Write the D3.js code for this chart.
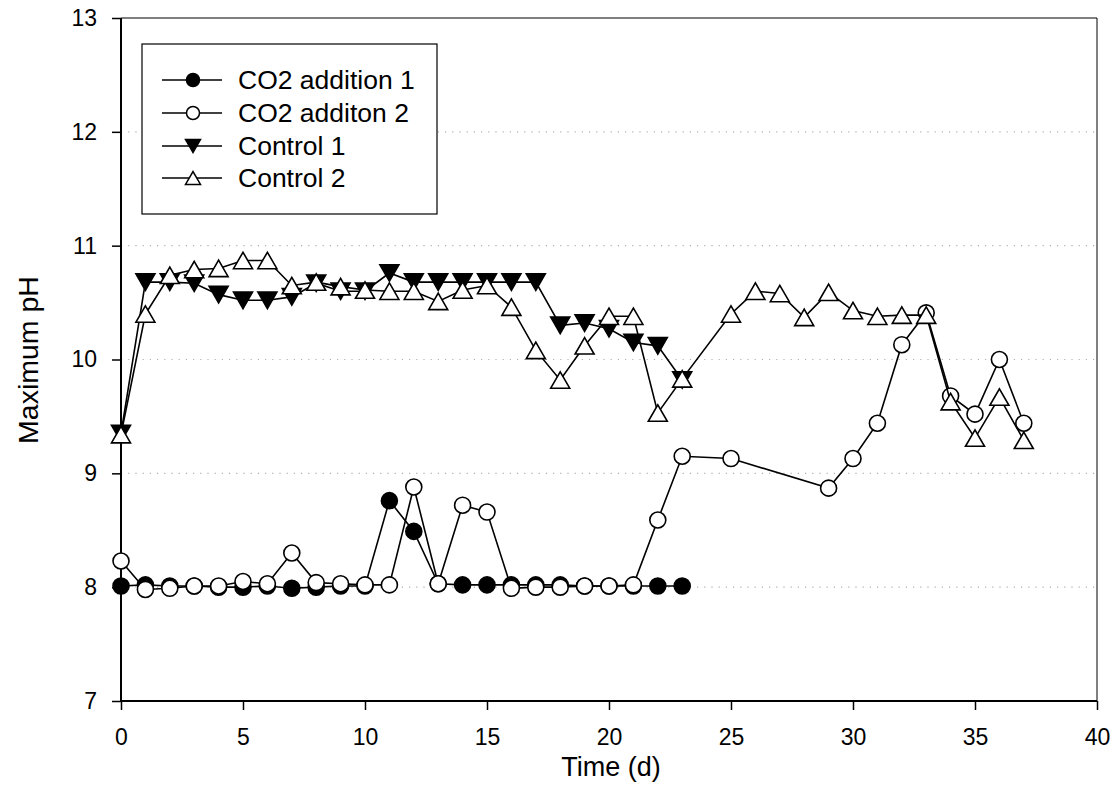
<!DOCTYPE html>
<html><head><meta charset="utf-8">
<script src="https://cdn.jsdelivr.net/npm/d3@7"></script>
<style>body{margin:0;background:#fff}svg{display:block}text{font-family:"Liberation Sans",Arial,sans-serif}</style>
</head><body><svg id="c" width="1120" height="787"></svg>
<script>
const seriesNames = ["CO2 addition 1", "CO2 additon 2", "Control 1", "Control 2"];
const daysA = d3.range(0, 24);
const co2Add1 = [8.01, 8.02, 8.01, 8.01, 8.00, 8.00, 8.01, 7.99, 8.00, 8.01, 8.01, 8.76, 8.49, 8.03, 8.02, 8.02, 8.02, 8.02, 8.02, 8.01, 8.01, 8.01, 8.01, 8.01];
const daysB = [0,1,2,3,4,5,6,7,8,9,10,11,12,13,14,15,16,17,18,19,20,21,22,23,25,29,30,31,32,33,34,35,36,37];
const co2Add2 = [8.23, 7.98, 7.99, 8.01, 8.01, 8.05, 8.03, 8.30, 8.04, 8.03, 8.02, 8.02, 8.88, 8.03, 8.72, 8.66, 7.99, 8.00, 8.00, 8.01, 8.01, 8.02, 8.59, 9.15, 9.13, 8.87, 9.13, 9.44, 10.13, 10.41, 9.68, 9.52, 10.00, 9.44];
const control1 = [9.35, 10.68, 10.68, 10.67, 10.57, 10.52, 10.52, 10.55, 10.67, 10.60, 10.60, 10.76, 10.68, 10.68, 10.68, 10.68, 10.68, 10.68, 10.30, 10.32, 10.27, 10.15, 10.12, 9.82];
const daysC = [0,1,2,3,4,5,6,7,8,9,10,11,12,13,14,15,16,17,18,19,20,21,22,23,25,26,27,28,29,30,31,32,33,34,35,36,37];
const control2 = [9.34, 10.40, 10.74, 10.79, 10.80, 10.87, 10.87, 10.65, 10.68, 10.64, 10.61, 10.60, 10.60, 10.51, 10.61, 10.65, 10.46, 10.08, 9.82, 10.12, 10.38, 10.38, 9.53, 9.83, 10.40, 10.60, 10.58, 10.37, 10.59, 10.43, 10.38, 10.39, 10.39, 9.63, 9.31, 9.67, 9.29];
const xTicks = [0,5,10,15,20,25,30,35,40];
const yTicks = [7,8,9,10,11,12,13];
const gridVals = [8,9,10,11,12];

const svg = d3.select("#c");
const L=121, R=1097, T=18, B=701;
const x = d3.scaleLinear().domain([0,40]).range([L,R]);
const y = d3.scaleLinear().domain([7,13]).range([B,T]);

// grid
svg.append("g").selectAll("line").data(gridVals).join("line")
  .attr("x1",L).attr("x2",R).attr("y1",d=>y(d)).attr("y2",d=>y(d))
  .attr("stroke","#b0b0b0").attr("stroke-width",1.2).attr("stroke-dasharray","1.2,6");

// frame
svg.append("line").attr("x1",L).attr("x2",R).attr("y1",T).attr("y2",T).attr("stroke","#000").attr("stroke-width",1);
svg.append("line").attr("x1",R).attr("x2",R).attr("y1",T).attr("y2",B).attr("stroke","#000").attr("stroke-width",1);

// axes
const xAxis = svg.append("g").attr("transform",`translate(0,${B})`)
  .call(d3.axisBottom(x).tickValues(xTicks).tickSize(9).tickPadding(19).tickFormat(d3.format("d")));
const yAxis = svg.append("g").attr("transform",`translate(${L},0)`)
  .call(d3.axisLeft(y).tickValues(yTicks).tickSize(9).tickPadding(15).tickFormat(d3.format("d")));
[xAxis,yAxis].forEach(g=>{
  g.attr("font-size",23).attr("font-family","'Liberation Sans',Arial,sans-serif");
  g.select(".domain").attr("stroke-width",2).attr("d", g===xAxis ? `M${L},0H${R}` : `M0,${B}V${T}`);
  g.selectAll(".tick line").attr("stroke-width",1.5);
  g.selectAll("text").attr("fill","#000");
});

// axis titles
svg.append("text").attr("x",611).attr("y",776).attr("text-anchor","middle").attr("font-size",27).text("Time (d)");
svg.append("text").attr("transform",`translate(38,360) rotate(-90)`).attr("text-anchor","middle").attr("font-size",28.5).text("Maximum pH");

// markers
const circle = r => `M${-r},0a${r},${r} 0 1,0 ${2*r},0a${r},${r} 0 1,0 ${-2*r},0Z`;
const triDown = s => { const h=s*0.866; return `M${-s/2},${-h/2}L${s/2},${-h/2}L0,${h/2}Z`; };
const triUp = s => { const h=s*0.866; return `M${-s/2},${h/2}L${s/2},${h/2}L0,${-h/2}Z`; };

const series = [
  {name:seriesNames[0], xs:daysA, ys:co2Add1, shape:circle(8), lshape:circle(6.5), fill:"#000"},
  {name:seriesNames[1], xs:daysB, ys:co2Add2, shape:circle(8), lshape:circle(6.5), fill:"#fff"},
  {name:seriesNames[2], xs:daysA, ys:control1, shape:triDown(19), lshape:triDown(15), fill:"#000"},
  {name:seriesNames[3], xs:daysC, ys:control2, shape:triUp(19), lshape:triUp(15), fill:"#fff"}
];
const line = d3.line().x(d=>x(d[0])).y(d=>y(d[1]));
series.forEach(s=>{
  const pts = s.xs.map((d,i)=>[d,s.ys[i]]);
  const g = svg.append("g");
  g.append("path").attr("d",line(pts)).attr("fill","none").attr("stroke","#000").attr("stroke-width",1.6);
  g.selectAll("path.m").data(pts).join("path").attr("class","m")
    .attr("transform",d=>`translate(${x(d[0])},${y(d[1])})`)
    .attr("d",s.shape).attr("fill",s.fill).attr("stroke","#000").attr("stroke-width",1.6);
});

// legend
const lg = svg.append("g");
lg.append("rect").attr("x",142).attr("y",44).attr("width",295).attr("height",170).attr("fill","#fff").attr("stroke","#000").attr("stroke-width",1.2);
const rowY = [80,113,146,178];
series.forEach((s,i)=>{
  const yy=rowY[i];
  lg.append("line").attr("x1",162).attr("x2",222).attr("y1",yy).attr("y2",yy).attr("stroke","#000").attr("stroke-width",1.6);
  lg.append("path").attr("transform",`translate(193,${yy})`).attr("d",s.lshape).attr("fill",s.fill).attr("stroke","#000").attr("stroke-width",1.5);
  lg.append("text").attr("x",238).attr("y",yy+8.5).attr("font-size",26.5).text(s.name);
});
</script></body></html>
